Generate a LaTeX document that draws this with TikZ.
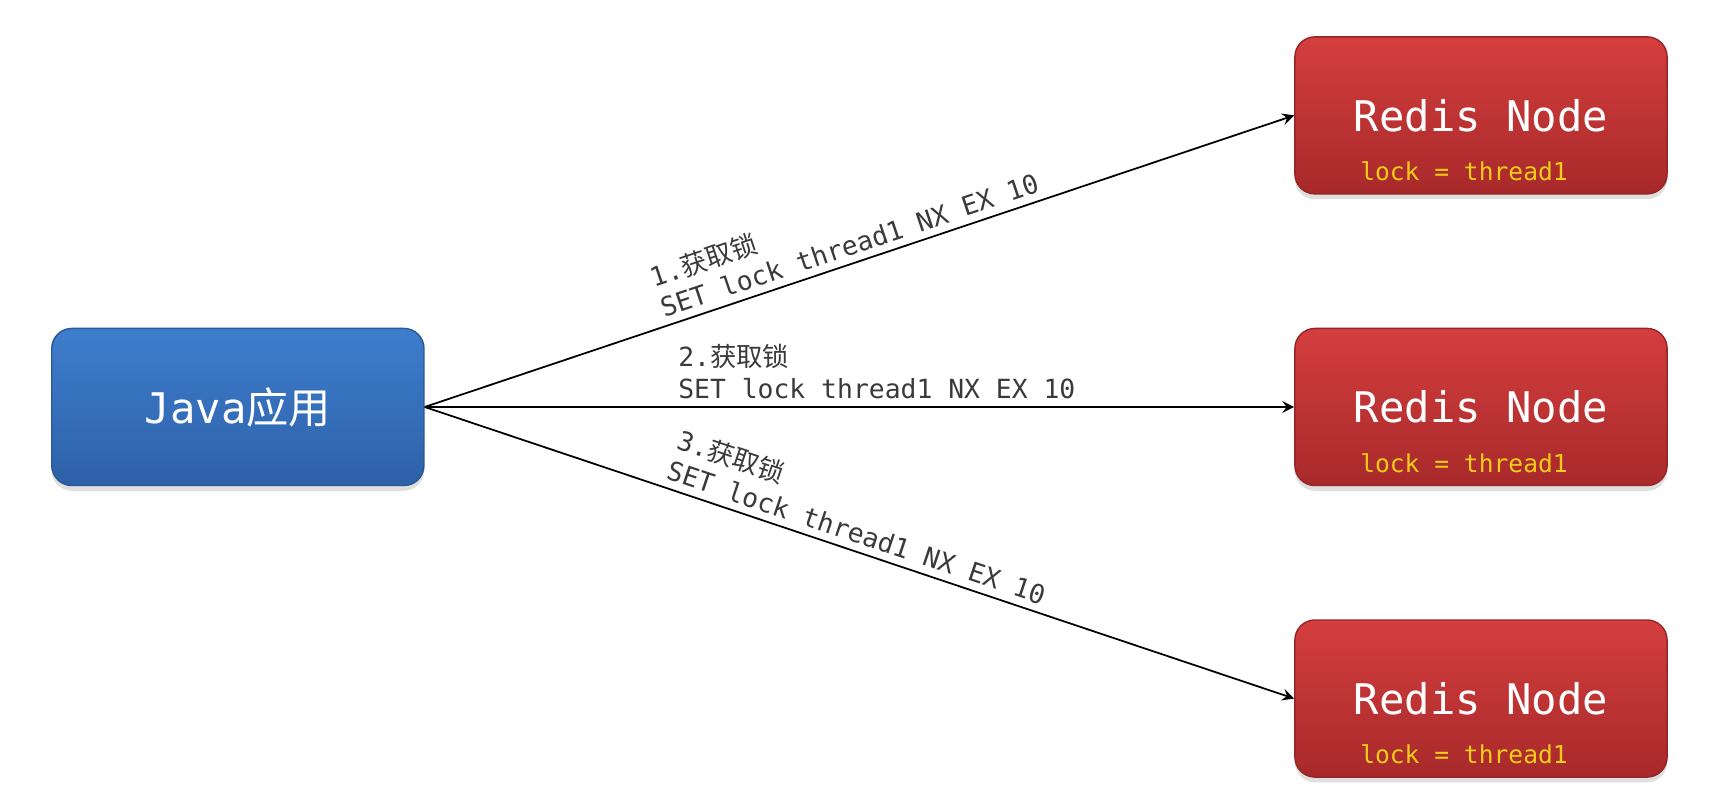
\documentclass[tikz,border=0pt]{standalone}
\usepackage{fontspec}
\setmonofont{DejaVu Sans Mono}
\newfontfamily\cjk{Noto Sans CJK SC}
\usetikzlibrary{positioning,shadows}

\definecolor{javatop}{HTML}{3E7DCD}
\definecolor{javabot}{HTML}{2D61A8}
\definecolor{javaedge}{HTML}{2B5794}
\definecolor{redistop}{HTML}{D43E3E}
\definecolor{redisbot}{HTML}{A8292A}
\definecolor{redisedge}{HTML}{962526}
\definecolor{lockyellow}{HTML}{F2CC1A}
\definecolor{msggray}{HTML}{3A3A3A}

\tikzset{
  box/.style={rounded corners=0.2cm, minimum width=3.72cm, minimum height=1.57cm,
    drop shadow={opacity=0.25, shadow xshift=0pt, shadow yshift=-1.5pt},
    font=\fontsize{12}{14}\selectfont\ttfamily, text=white, line width=0.4pt},
  javabox/.style={box, top color=javatop, bottom color=javabot, draw=javaedge},
  redisbox/.style={box, top color=redistop, bottom color=redisbot, draw=redisedge},
  locktext/.style={font=\fontsize{7}{8}\selectfont\ttfamily, text=lockyellow, inner sep=0pt},
  msg/.style={font=\fontsize{7.5}{9.2}\selectfont\ttfamily, text=msggray, align=left,
    sloped, anchor=south, inner sep=2pt}
}

\begin{document}
\begin{tikzpicture}[x=0.01cm, y=0.01cm, >=stealth]
\fill[white] (0,0) rectangle (1732,810);
\useasboundingbox (0,0) rectangle (1732,810);

% redis nodes
\node (r2) [redisbox] at (1481,403) {Redis Node};
\node (r1) [redisbox, above=1.33cm of r2] {Redis Node};
\node (r3) [redisbox, below=1.33cm of r2] {Redis Node};
\foreach \n in {1,2,3}
{
    \node (l\n) [locktext] at ([shift={(-17,-56)}]r\n.center) {lock = thread1};
}

% client
\node (java) [javabox, left=8.69cm of r2] {Java{\cjk 应用}};

\draw[->, line width=0.5pt] (java.east) -- node[msg, pos=.495]{1.{\cjk 获取锁}\\SET lock thread1 NX EX 10} (r1.west);
\draw[->, line width=0.5pt] (java.east) -- node[msg, pos=.52]{2.{\cjk 获取锁}\\SET lock thread1 NX EX 10} (r2.west);
\draw[->, line width=0.5pt] (java.east) -- node[msg, pos=.49]{3.{\cjk 获取锁}\\SET lock thread1 NX EX 10} (r3.west);
\end{tikzpicture}
\end{document}
